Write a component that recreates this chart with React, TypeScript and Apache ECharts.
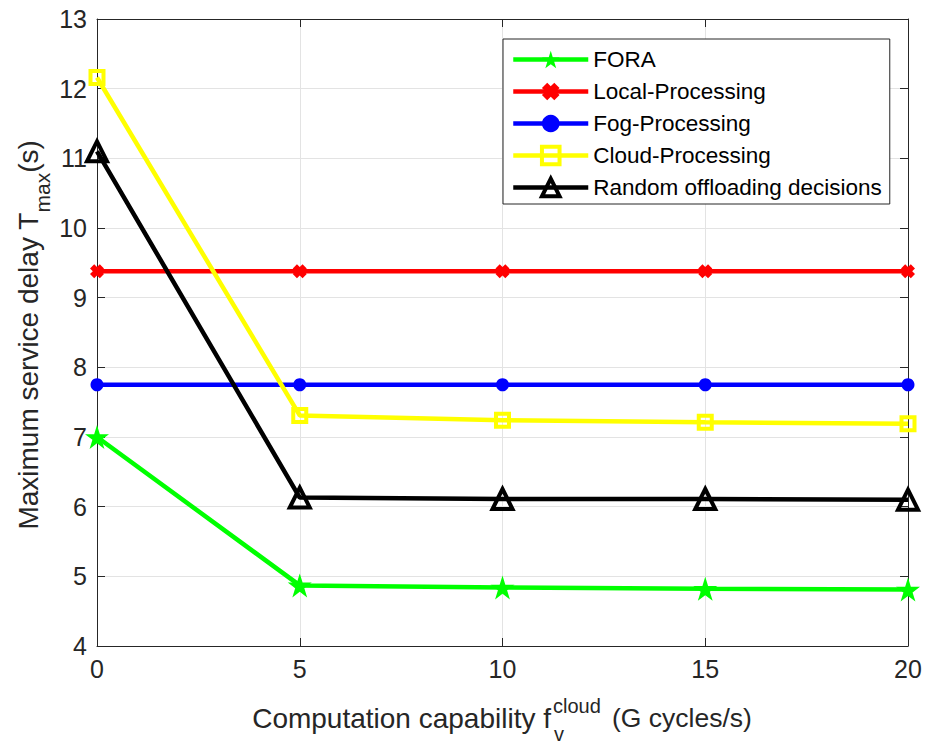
import React, { useEffect, useRef } from "react";
import * as echarts from "echarts";

const xValues = [0, 5, 10, 15, 20];
const foraValues = [7.0, 4.87, 4.84, 4.82, 4.81];
const localValues = [9.38, 9.38, 9.38, 9.38, 9.38];
const fogValues = [7.75, 7.75, 7.75, 7.75, 7.75];
const cloudValues = [12.16, 7.31, 7.24, 7.21, 7.19];
const randomValues = [11.1, 6.13, 6.11, 6.11, 6.1];
const seriesNames = [
  "FORA",
  "Local-Processing",
  "Fog-Processing",
  "Cloud-Processing",
  "Random offloading decisions",
];
const yTicks = { min: 4, max: 13, interval: 1 };
const xTicks = { min: 0, max: 20, interval: 5 };

const FONT = "'Liberation Sans', Arial, Helvetica, sans-serif";
const AX = "#262626";

const STAR =
  "path://M0,-10 L2.245,-3.09 L9.511,-3.09 L3.633,1.18 L5.878,8.09 L0,3.82 L-5.878,8.09 L-3.633,1.18 L-9.511,-3.09 L-2.245,-3.09 Z";
const CROSS =
  "path://M-5,-2 L-2,-5 L0,-3 L2,-5 L5,-2 L3,0 L5,2 L2,5 L0,3 L-2,5 L-5,2 L-3,0 Z";

const seriesColors = ["#00ff00", "#ff0000", "#0000ff", "#ffff00", "#000000"];
const seriesHollow = [false, false, false, true, true];

function pairs(vals: number[]) {
  return xValues.map((x, i) => [x, vals[i]]);
}

function styleFor(i: number) {
  const color = seriesColors[i];
  return seriesHollow[i]
    ? { color: "rgba(0,0,0,0)", borderColor: color, borderWidth: 4 }
    : { color, borderWidth: 0 };
}

export default function App() {
  const ref = useRef<HTMLDivElement>(null);
  useEffect(() => {
    document.body.style.margin = "0";
    if (!ref.current) return;
    const chart = echarts.init(ref.current, undefined, { renderer: "svg" });
    const mk = (i: number, vals: number[], symbol: string, size: number) => ({
      name: seriesNames[i],
      type: "line",
      data: pairs(vals),
      symbol,
      symbolSize: size,
      lineStyle: { color: seriesColors[i], width: 4.5 },
      itemStyle: styleFor(i),
      emphasis: { disabled: true },
      z: 2,
    });
    const axisCommon = {
      axisLine: { show: true, onZero: false, lineStyle: { color: AX, width: 1 } },
      axisTick: { show: true, inside: true, length: 8, lineStyle: { color: AX } },
    };
    chart.setOption({
      animation: false,
      backgroundColor: "#ffffff",
      textStyle: { fontFamily: FONT },
      grid: { left: 97, right: 18, top: 19, bottom: 98, containLabel: false },
      xAxis: [
        {
          type: "value",
          ...xTicks,
          ...axisCommon,
          axisLabel: { color: AX, fontSize: 25, margin: 10, fontFamily: FONT },
          splitLine: { show: true, lineStyle: { color: "#e3e3e3", width: 1 } },
        },
        {
          type: "value",
          position: "top",
          ...xTicks,
          ...axisCommon,
          axisLabel: { show: false },
          splitLine: { show: false },
        },
      ],
      yAxis: [
        {
          type: "value",
          ...yTicks,
          ...axisCommon,
          axisLabel: { color: AX, fontSize: 25, margin: 10, fontFamily: FONT },
          splitLine: { show: true, lineStyle: { color: "#e3e3e3", width: 1 } },
        },
        {
          type: "value",
          position: "right",
          ...yTicks,
          ...axisCommon,
          axisLabel: { show: false },
          splitLine: { show: false },
        },
      ],
      legend: {
        orient: "vertical",
        left: 503,
        top: 39,
        padding: [9, 8, 5, 8],
        itemWidth: 75,
        itemHeight: 22,
        itemGap: 9,
        backgroundColor: "#ffffff",
        borderColor: AX,
        borderWidth: 1,
        borderRadius: 0,
        selectedMode: false,
        lineStyle: { width: 4.5 },
        textStyle: { color: "#000", fontSize: 22.5, fontFamily: FONT },
        data: seriesNames.map((name, i) => ({
          name,
          itemStyle: styleFor(i),
          lineStyle: { color: seriesColors[i], width: 4.5 },
        })),
      },
      graphic: [
        {
          type: "text",
          x: 28,
          y: 335,
          rotation: Math.PI / 2,
          style: {
            text: "{a|Maximum service delay T}{s|max}{a|(s)}",
            align: "center",
            verticalAlign: "middle",
            fill: AX,
            rich: {
              a: { fontSize: 28, fontFamily: FONT, lineHeight: 50, fill: AX },
              s: { fontSize: 21, fontFamily: FONT, lineHeight: 21, verticalAlign: "bottom", fill: AX },
            },
          },
        },
        {
          type: "text",
          x: 551,
          y: 718,
          style: {
            text: "Computation capability f",
            fontSize: 28,
            fontFamily: FONT,
            fill: AX,
            align: "right",
            verticalAlign: "middle",
          },
        },
        {
          type: "text",
          x: 553,
          y: 706,
          style: { text: "cloud", fontSize: 20, fontFamily: FONT, fill: AX, align: "left", verticalAlign: "middle" },
        },
        {
          type: "text",
          x: 554,
          y: 734,
          style: { text: "v", fontSize: 20, fontFamily: FONT, fill: AX, align: "left", verticalAlign: "middle" },
        },
        {
          type: "text",
          x: 612,
          y: 718,
          style: {
            text: "(G cycles/s)",
            fontSize: 26.5,
            fontFamily: FONT,
            fill: AX,
            align: "left",
            verticalAlign: "middle",
          },
        },
      ],
      series: [
        mk(0, foraValues, STAR, 24),
        mk(1, localValues, CROSS, 14),
        mk(2, fogValues, "circle", 13),
        mk(3, cloudValues, "rect", 13),
        mk(4, randomValues, "triangle", 20),
      ],
    });
    return () => chart.dispose();
  }, []);
  return <div ref={ref} style={{ width: 926, height: 744 }} />;
}
